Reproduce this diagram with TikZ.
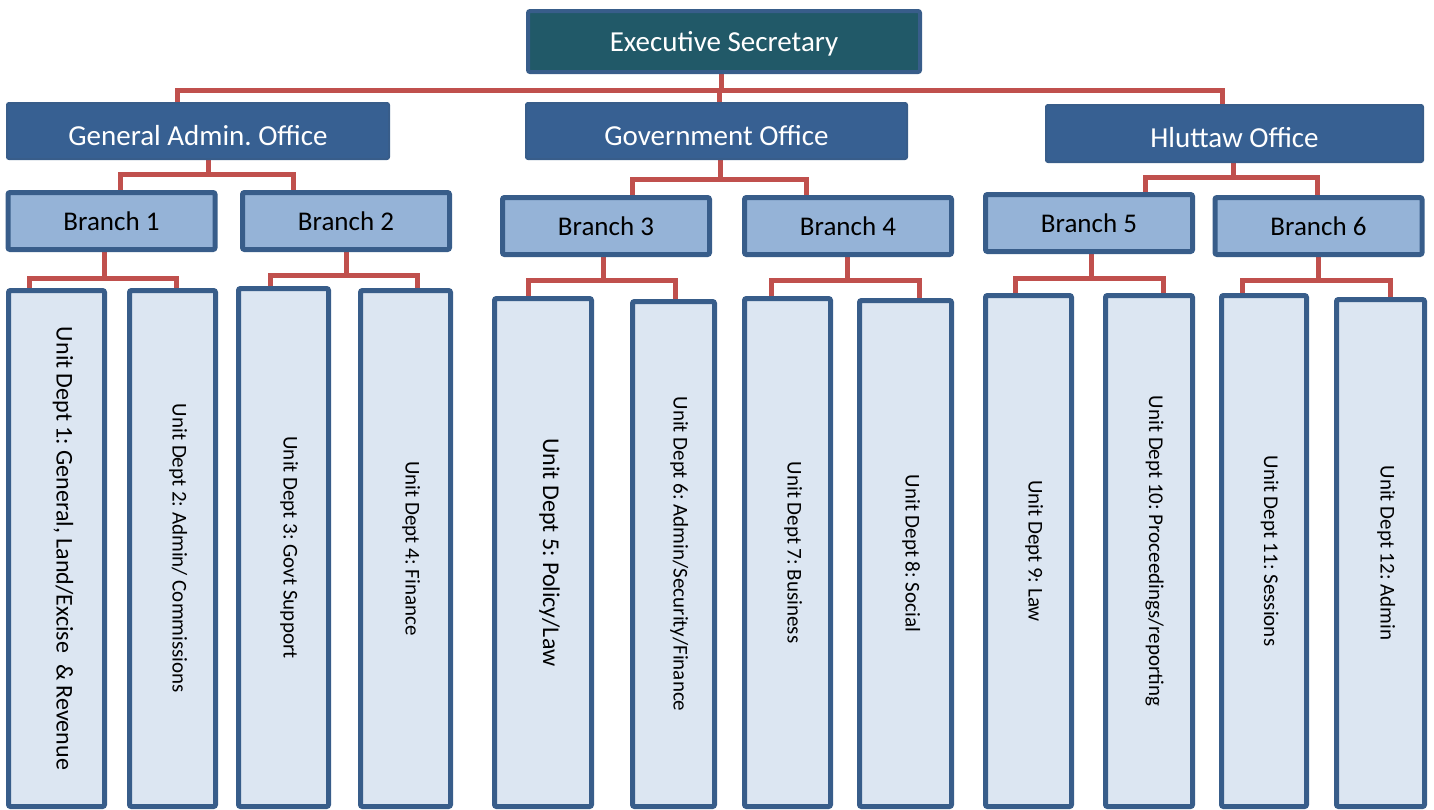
\documentclass[tikz,border=0pt]{standalone}
\usepackage{fontspec}
\setmainfont{Carlito}
\usetikzlibrary{backgrounds}
\frenchspacing

\definecolor{esfill}{HTML}{215968}
\definecolor{boxline}{HTML}{385D8A}
\definecolor{officefill}{HTML}{376092}
\definecolor{branchfill}{HTML}{95B3D7}
\definecolor{unitfill}{HTML}{DCE6F2}
\definecolor{linkred}{HTML}{C0504D}

\tikzset{
  secretary/.style={draw=boxline, line width=4pt, fill=esfill, text=white,
    inner sep=0pt, rounded corners=2pt, font=\fontsize{29}{35}\selectfont,
    text height=19.5pt, text depth=0pt},
  office/.style={draw=boxline, line width=2pt, fill=officefill, text=white,
    inner sep=0pt, rounded corners=2pt, font=\fontsize{29}{35}\selectfont,
    text height=28.5pt, text depth=0pt},
  branch/.style={draw=boxline, line width=5pt, fill=branchfill,
    minimum width=207pt, minimum height=57pt, inner sep=0pt,
    rounded corners=2pt, font=\fontsize{27}{32}\selectfont,
    text height=19pt, text depth=0pt},
  unit/.style={draw=boxline, line width=5pt, fill=unitfill, inner sep=0pt,
    outer sep=0pt, rounded corners=2pt, anchor=north},
  unittext/.style={rotate=-90, anchor=base, inner sep=0pt},
  link/.style={draw=linkred, line width=5pt}
}

\begin{document}
\begin{tikzpicture}[x=1pt, y=-1pt]
    \useasboundingbox (0,0) rectangle (1434,809);

    % Top
    \node[secretary, minimum width=392pt, minimum height=61pt] (es) at (724,41.5) {Executive Secretary};

    % Offices
    \node[office, minimum width=382pt, minimum height=56pt] (gao) at (198,131) {General Admin. Office};
    \node[office, minimum width=381pt, minimum height=56pt] (go) at (716.5,131) {Government Office};
    \node[office, minimum width=377pt, minimum height=57pt] (ho) at (1234.5,133.5) {Hluttaw Office};

    % Branches
    \foreach \n/\cx/\cy in {1/111.5/221, 2/346/221, 3/606/226, 4/848/226, 5/1089/223, 6/1318.5/226}
        \node[branch] (b\n) at (\cx,\cy) {Branch \n};

    % Unit departments (all run down to the bottom edge)
    \foreach \n/\cx/\w/\ty/\fs/\txt in {
        1/56.5/96/290.5/24/{Unit Dept 1: General, Land/Excise \ \& Revenue},
        2/172.5/86/290.5/21/{Unit Dept 2: Admin/ Commissions},
        3/283.5/90/288.5/21/{Unit Dept 3: Govt Support},
        4/405.5/90/290.5/21/{Unit Dept 4: Finance},
        5/543/97/298.5/24/{Unit Dept 5: Policy/Law},
        6/673.5/82/301.5/21/{Unit Dept 6: Admin/Security/Finance},
        7/787.5/86/298.5/21/{Unit Dept 7: Business},
        8/905.5/92/300.5/21/{Unit Dept 8: Social},
        9/1028.5/86/295.5/21/{Unit Dept 9: Law},
        10/1149/87/295.5/21/{Unit Dept 10: Proceedings/reporting},
        11/1264/85/295.5/21/{Unit Dept 11: Sessions},
        12/1380.5/88/299.5/21/{Unit Dept 12: Admin}}
    {
        \node[unit, minimum width=\w pt, minimum height={(806.5-\ty)*1pt}] (u\n) at (\cx,\ty) {};
        \node[unittext, font=\fontsize{\fs}{\fs}\selectfont] (t\n) at (u\n.center) {\txt};
    }

    % Connectors
    \begin{scope}[on background layer]
        \foreach \p/\pdx/\drop/\c/\cdx in {
            es/-3/16/gao/-21, es/-3/16/go/2.5, es/-3/16/ho/-12.5,
            gao/10.7/14.3/b1/8.5, gao/10.7/14.3/b2/-53,
            go/4/19.3/b3/26, go/4/19.3/b4/-42,
            ho/-1/14/b5/56, ho/-1/14/b6/-1,
            b1/-7/26.5/u1/-27.5, b1/-7/26.5/u2/4,
            b2/0/23.8/u3/-13.5, b2/0/23.8/u4/12,
            b3/-3/23.8/u5/-15, b3/-3/23.8/u6/2,
            b4/-1/23.2/u7/-16.5, b4/-1/23.2/u8/14,
            b5/2/24.5/u9/-13.5, b5/2/24.5/u10/14,
            b6/0/23.2/u11/-22, b6/0/23.2/u12/10}
            \draw[link] ([xshift=\pdx pt]\p.south) -- ++(0,\drop) -| ([xshift=\cdx pt]\c.north);
    \end{scope}
\end{tikzpicture}
\end{document}
